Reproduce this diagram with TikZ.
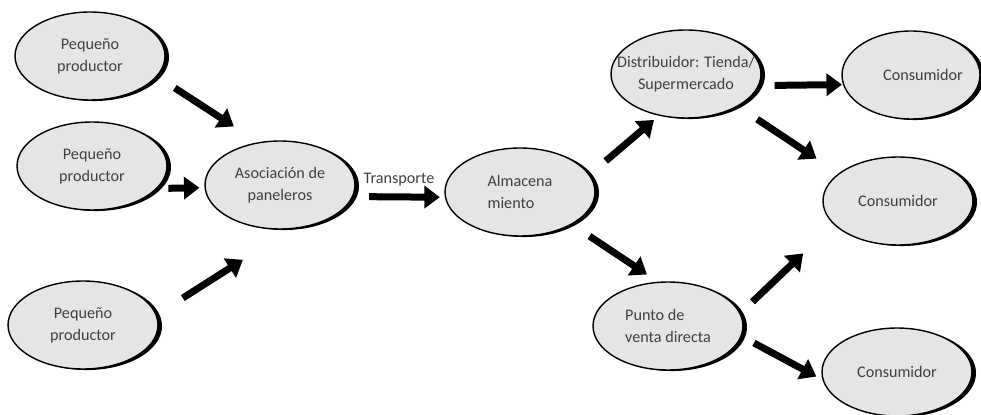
\documentclass[tikz,border=0pt]{standalone}
\usepackage{fontspec}
\setmainfont{Carlito}
\usepackage{tikz}
\usetikzlibrary{shapes.geometric, arrows.meta, shadows}

\begin{document}
\begin{tikzpicture}[x=0.02cm, y=-0.02cm,
		actor/.style={ellipse, draw=black, line width=0.8pt, fill=gray!20,
			minimum width=3cm, minimum height=1.76cm, inner sep=0pt,
			text=black!75, font=\fontsize{9.2}{12.5}\selectfont, align=center,
			drop shadow={shadow xshift=2.3pt, shadow yshift=-0.6pt, opacity=1, fill=black}},
		flow/.style={line width=0.14cm, -{Triangle[length=0.31cm, width=0.44cm]}}]
			% Fix the page to the size of the reference
			\useasboundingbox (0,0) rectangle (981,415);
			
			% Draw the producers (left column)
			\node[actor] (p1) at (90,56) {Pequeño\\productor};
			\node[actor] (p2) at (92,166) {Pequeño\\productor};
			\node[actor] (p3) at (83,325) {Pequeño\\productor};
			
			% Draw the middle chain
			\node[actor] (asoc) at (280,185) {Asociación de\\paneleros};
			\node[actor, align=left] (alma) at (520,192) {Almacena\\miento};
			
			% Draw the outlets (long text kept from widening the ellipse)
			\node[actor] (dist) at (686,74) {\makebox[0pt]{Distribuidor: Tienda/}\\\makebox[0pt]{Supermercado}};
			\node[actor, align=left] (punto) at (668,326) {Punto de\\venta directa};
			
			% Draw the consumers (right column)
			\node[actor, minimum width=2.76cm] (cons1) at (911,75) {\makebox[0pt]{\hspace*{0.48cm}Consumidor}};
			\node[actor] (cons2) at (898,201) {Consumidor};
			\node[actor] (cons3) at (897,372) {Consumidor};
			
			% Producers to the association
			\draw[flow, shorten <=0.42cm, shorten >=0.58cm] (p1.-17) -- (asoc.117);
			\draw[flow, shorten <=0.22cm, shorten >=0.10cm] (p2.-19) -- (asoc.182);
			\draw[flow, shorten <=0.62cm, shorten >=1.14cm] (p3.8) -- (asoc.-76);
			
			% Association to storage
			\draw[flow, shorten <=0.32cm, shorten >=0.10cm] (asoc.-9.5) -- (alma.184)
			node[midway, above=1pt, text=black!75, font=\fontsize{9.2}{12.5}\selectfont] (trans) {Transporte};
			
			% Storage to the outlets
			\draw[flow, shorten <=0.42cm, shorten >=0.13cm] (alma.14) -- (dist.237);
			\draw[flow, shorten <=0.42cm, shorten >=0.26cm] (alma.-32) -- (punto.103);
			
			% Outlets to the consumers
			\draw[flow, shorten <=0.31cm, shorten >=0.02cm] (dist.-9) -- (cons1.188);
			\draw[flow, shorten <=0.46cm, shorten >=0.53cm] (dist.-32) -- (cons2.155);
			\draw[flow, shorten <=0.33cm, shorten >=0.84cm] (punto.10) -- (cons2.200);
			\draw[flow, shorten <=0.28cm, shorten >=0.14cm] (punto.-8) -- (cons3.186);
			
		\end{tikzpicture}
\end{document}
